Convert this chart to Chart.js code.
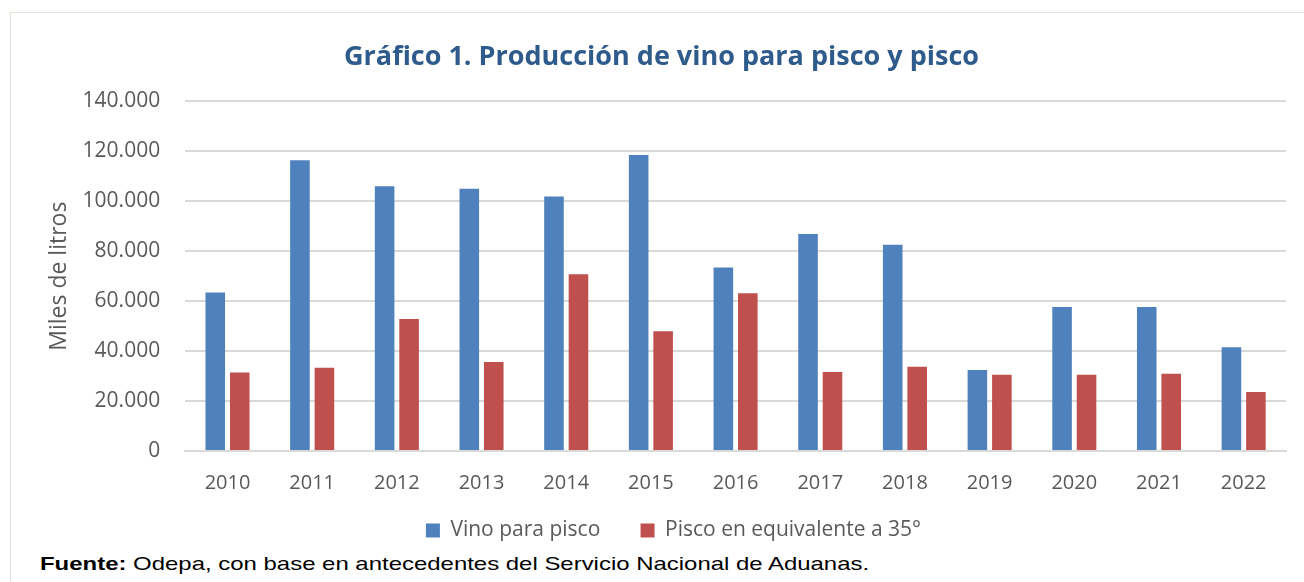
<!DOCTYPE html>
<html lang="es">
<head>
<meta charset="utf-8">
<title>Producción de vino para pisco y pisco</title>
<script src="https://cdn.jsdelivr.net/npm/chart.js@4.4.1/dist/chart.umd.min.js"></script>
<style>
  html, body { margin: 0; padding: 0; background: #fff; }
  body { width: 1304px; height: 582px; position: relative; overflow: hidden; }
  #frame {
    position: absolute; left: 10px; top: 12px; width: 1310px; height: 590px;
    border: 1px solid #e6e4d8; box-sizing: border-box;
  }
  #wrap { position: absolute; left: 10px; top: 12px; width: 1294px; height: 539px; }
  #note {
    position: absolute; left: 40px; top: 553px; white-space: nowrap;
    font-family: "Liberation Sans", Arial, sans-serif; font-size: 19px; color: #000;
    transform: scaleX(1.26); transform-origin: left top;
  }
</style>
</head>
<body>
<div id="frame"></div>
<div id="wrap"><canvas id="chart"></canvas></div>
<div id="note"><b>Fuente:</b> Odepa, con base en antecedentes del Servicio Nacional de Aduanas.</div>
<script>
const years = ["2010", "2011", "2012", "2013", "2014", "2015", "2016",
  "2017", "2018", "2019", "2020", "2021", "2022"];
// miles de litros
const vinoParaPisco = [63500, 116400, 106000, 105000, 101900, 118500, 73500,
  86900, 82600, 32400, 57700, 57700, 41500];
const piscoEquiv35 = [31400, 33300, 52900, 35600, 70800, 48000, 63200,
  31600, 33700, 30500, 30500, 30900, 23600];
const yTicks = [0, 20000, 40000, 60000, 80000, 100000, 120000, 140000];

const fmt = (v) => v === 0 ? "0" : v.toLocaleString("de-DE");
const font = "'Open Sans', sans-serif";
const grey = "#595959";

// title and legend sit a bit right of the canvas centre in the original
const nudge = {
  id: "nudge",
  afterLayout: (chart) => {
    chart.legend.left += 22;
    chart.legend.right += 22;
    chart.titleBlock.left += 10;
    chart.titleBlock.right += 10;
  },
};

const ctx = document.querySelector("#chart").getContext("2d");
new Chart(ctx, {
  type: "bar",
  data: {
    labels: years,
    datasets: [
      {
        label: "Vino para pisco",
        data: vinoParaPisco,
        backgroundColor: "#4f81bd",
        categoryPercentage: 0.578,
        barPercentage: 0.8,
      },
      {
        label: "Pisco en equivalente a 35°",
        data: piscoEquiv35,
        backgroundColor: "#c0504d",
        categoryPercentage: 0.578,
        barPercentage: 0.8,
      },
    ],
  },
  plugins: [nudge],
  options: {
    responsive: true,
    maintainAspectRatio: false,
    animation: false,
    layout: { padding: { left: 7, right: 18, top: 0, bottom: 0 } },
    plugins: {
      title: {
        display: true,
        text: "Gráfico 1. Producción de vino para pisco y pisco",
        color: "#2f5b8c",
        font: { family: font, size: 27, weight: "bold" },
        padding: { top: 29, bottom: 28 },
      },
      legend: {
        position: "bottom",
        labels: {
          color: grey,
          font: { family: font, size: 21 },
          boxWidth: 14,
          boxHeight: 14,
          padding: 13,
          // extra room between the two entries
          generateLabels: (chart) =>
            Chart.defaults.plugins.legend.labels.generateLabels(chart).map((item, i) => ({
              ...item,
              text: i === 0 ? item.text + "     " : item.text,
            })),
        },
      },
      tooltip: { enabled: false },
    },
    scales: {
      x: {
        grid: { display: false },
        border: { display: true, color: "#d9d9d9", width: 2 },
        ticks: { color: grey, font: { family: font, size: 20 }, padding: 12 },
      },
      y: {
        min: 0,
        max: 140000,
        afterBuildTicks: (axis) => {
          axis.ticks = yTicks.map((v) => ({ value: v }));
        },
        grid: { color: "#d9d9d9", lineWidth: 2, drawTicks: false },
        border: { display: false },
        ticks: {
          color: grey,
          font: { family: font, size: 21 },
          padding: 25,
          callback: (v) => fmt(v),
        },
        title: {
          display: true,
          text: "Miles de litros",
          color: grey,
          font: { family: font, size: 23 },
          padding: { top: 29, bottom: -16 },
        },
      },
    },
  },
});
</script>
</body>
</html>
